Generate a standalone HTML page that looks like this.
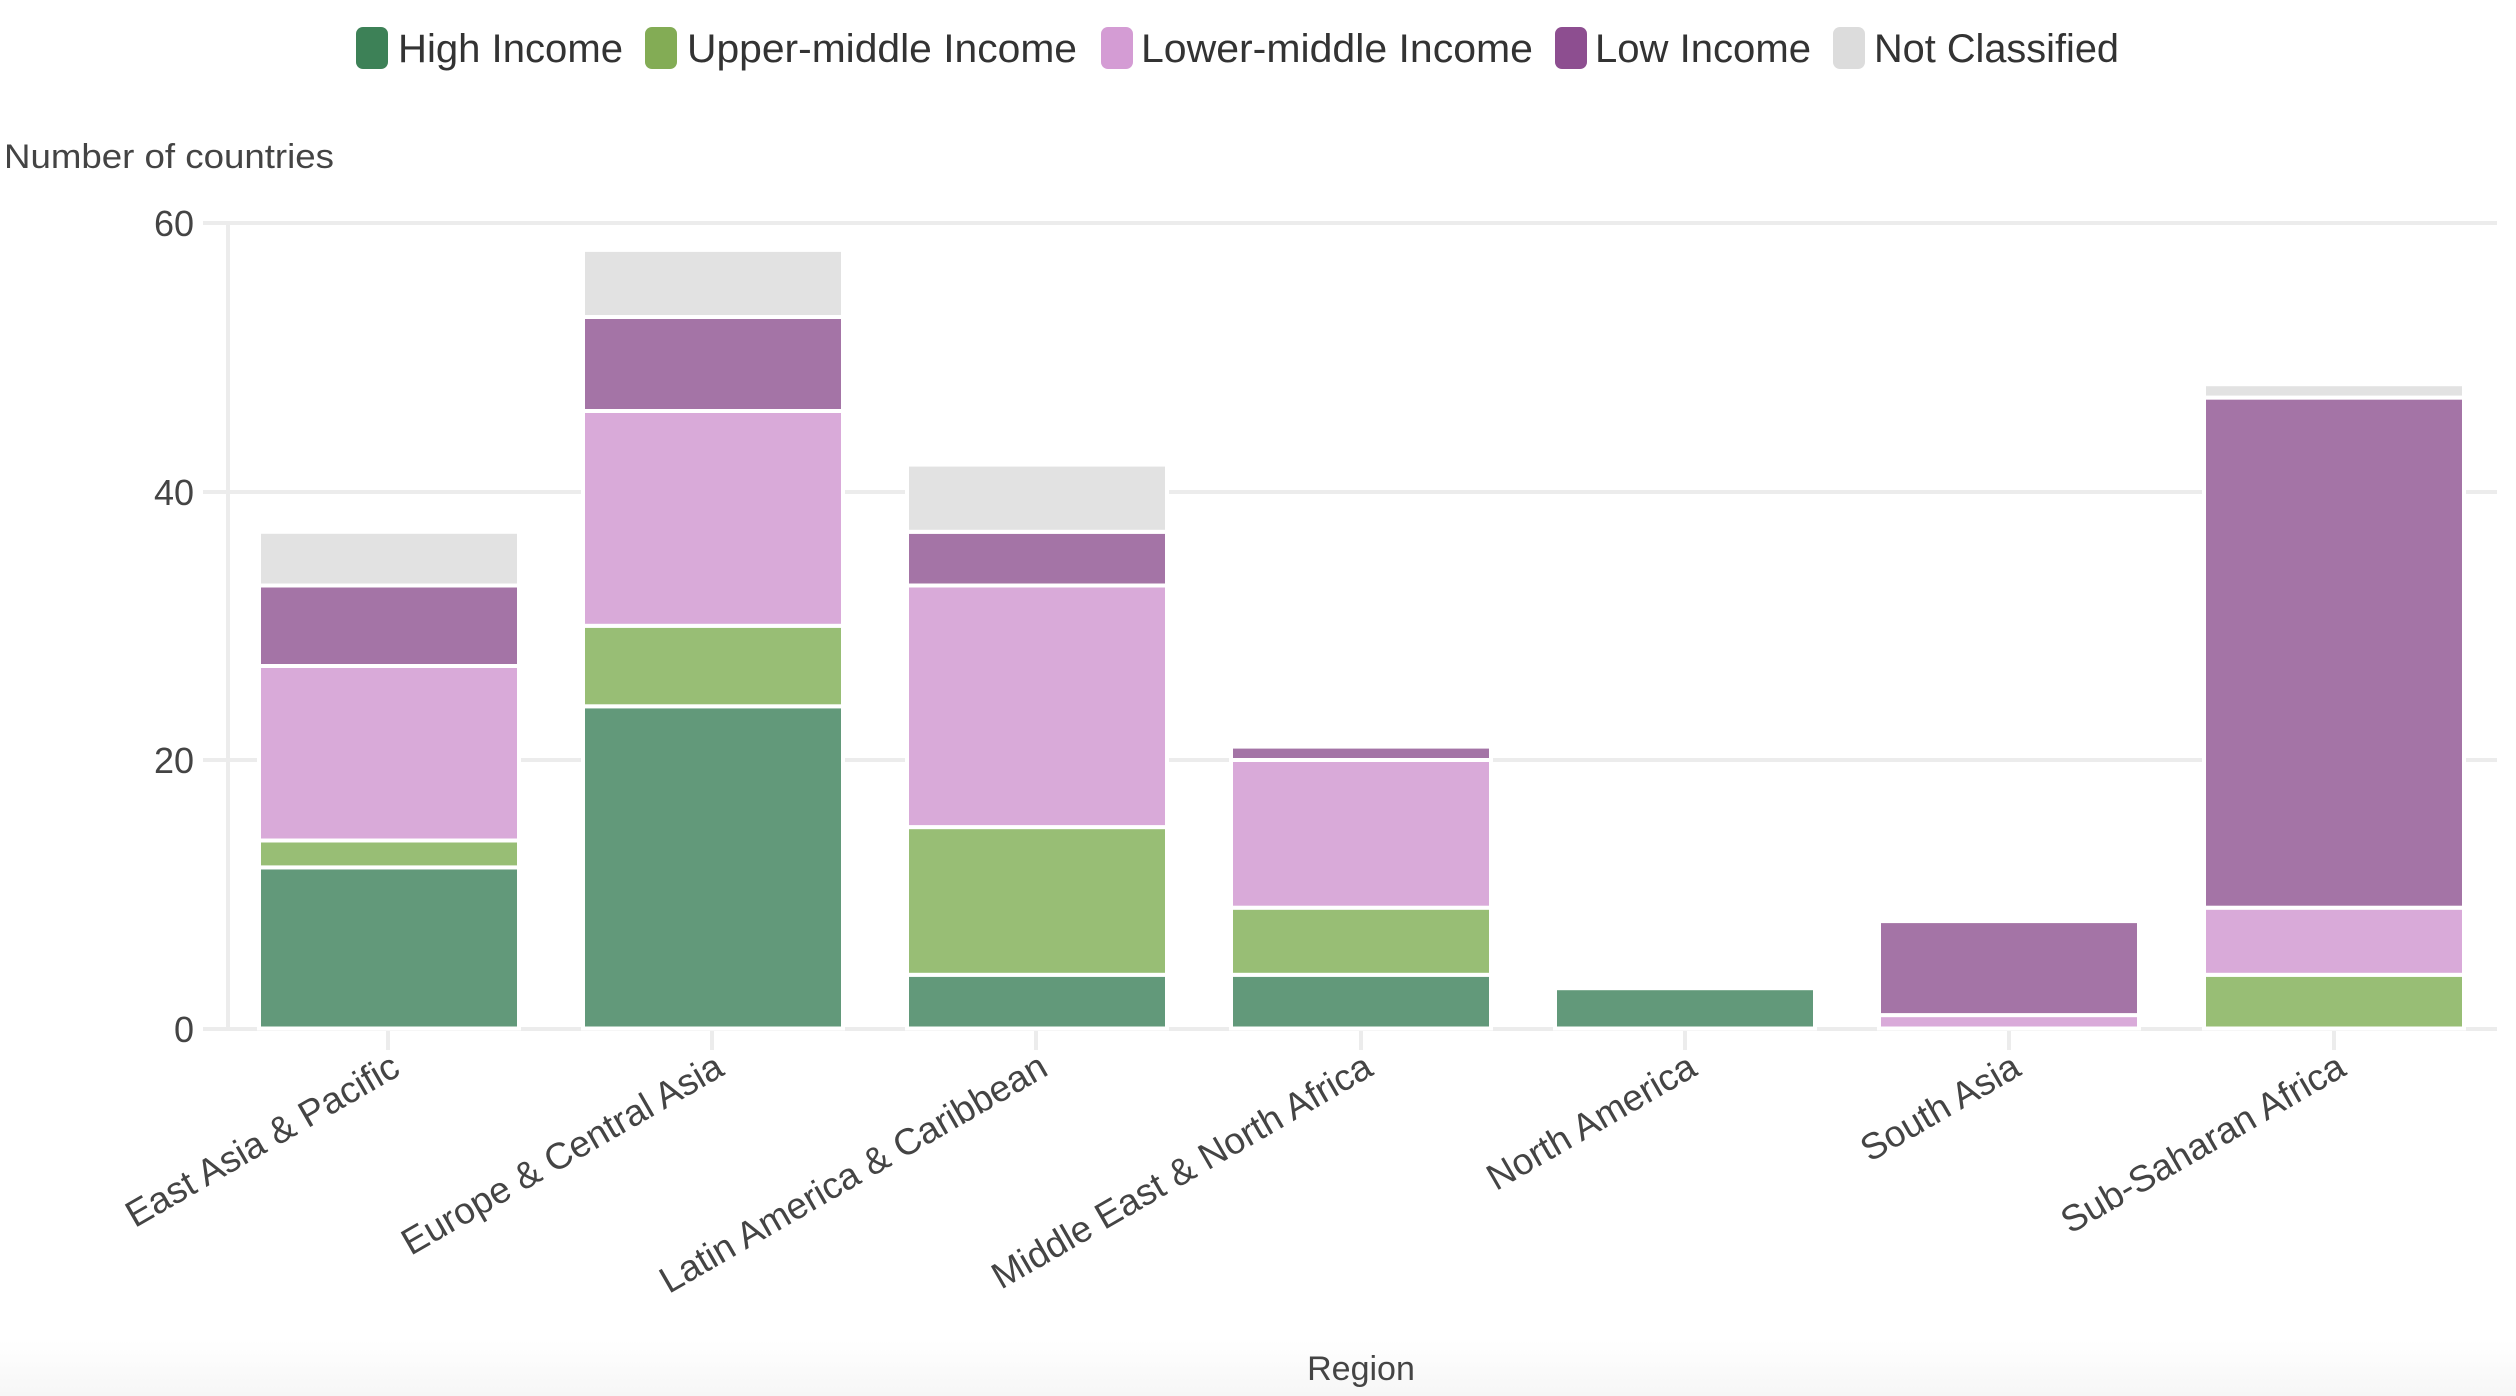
<!DOCTYPE html>
<html><head><meta charset="utf-8"><style>
html,body{margin:0;padding:0;background:#fff;}
svg{display:block;font-family:"Liberation Sans",sans-serif;}
</style></head><body>
<svg width="2516" height="1396" viewBox="0 0 2516 1396" xmlns="http://www.w3.org/2000/svg">
<defs><linearGradient id="bg" x1="0" y1="0" x2="0" y2="1"><stop offset="0" stop-color="#fff"/><stop offset="1" stop-color="#f6f6f6"/></linearGradient></defs>
<rect x="0" y="1340" width="2516" height="56" fill="url(#bg)"/>
<g font-size="40" fill="#333">
<rect x="356" y="27" width="32" height="42" rx="7" fill="#3d8157"/><text x="398" y="62" textLength="225" lengthAdjust="spacingAndGlyphs">High Income</text>
<rect x="645" y="27" width="32" height="42" rx="7" fill="#83ac55"/><text x="687" y="62" textLength="390" lengthAdjust="spacingAndGlyphs">Upper-middle Income</text>
<rect x="1101" y="27" width="32" height="42" rx="7" fill="#d49cd4"/><text x="1141" y="62" textLength="392" lengthAdjust="spacingAndGlyphs">Lower-middle Income</text>
<rect x="1555" y="27" width="32" height="42" rx="7" fill="#8d4e90"/><text x="1595" y="62" textLength="216" lengthAdjust="spacingAndGlyphs">Low Income</text>
<rect x="1833" y="27" width="32" height="42" rx="7" fill="#dcdcdc"/><text x="1874" y="62" textLength="245" lengthAdjust="spacingAndGlyphs">Not Classified</text>
</g>
<text x="4" y="168" font-size="34" fill="#444" textLength="330" lengthAdjust="spacingAndGlyphs">Number of countries</text>
<g stroke="#ececec" stroke-width="4">
<line x1="203" y1="223" x2="2497" y2="223"/>
<line x1="203" y1="492" x2="2497" y2="492"/>
<line x1="203" y1="760" x2="2497" y2="760"/>
<line x1="203" y1="1029" x2="2497" y2="1029"/>
<line x1="228" y1="223" x2="228" y2="1029"/>
<line x1="388" y1="1031" x2="388" y2="1050"/><line x1="712" y1="1031" x2="712" y2="1050"/><line x1="1036" y1="1031" x2="1036" y2="1050"/><line x1="1361" y1="1031" x2="1361" y2="1050"/><line x1="1685" y1="1031" x2="1685" y2="1050"/><line x1="2009" y1="1031" x2="2009" y2="1050"/><line x1="2334" y1="1031" x2="2334" y2="1050"/>
</g>
<g font-size="36" fill="#444" text-anchor="end">
<text x="194" y="236">60</text><text x="194" y="505">40</text><text x="194" y="773">20</text><text x="194" y="1042">0</text>
</g>
<g stroke="#fff" stroke-width="4">
<rect x="259" y="867.4" width="260" height="161.1" fill="#62997a"/>
<rect x="259" y="840.5" width="260" height="26.9" fill="#98be75"/>
<rect x="259" y="666" width="260" height="174.5" fill="#d9aad9"/>
<rect x="259" y="585.5" width="260" height="80.5" fill="#a474a6"/>
<rect x="259" y="531.8" width="260" height="53.7" fill="#e2e2e2"/>
<rect x="583" y="706.3" width="260" height="322.2" fill="#62997a"/>
<rect x="583" y="625.8" width="260" height="80.5" fill="#98be75"/>
<rect x="583" y="411" width="260" height="214.8" fill="#d9aad9"/>
<rect x="583" y="317" width="260" height="94" fill="#a474a6"/>
<rect x="583" y="249.9" width="260" height="67.1" fill="#e2e2e2"/>
<rect x="907" y="974.8" width="260" height="53.7" fill="#62997a"/>
<rect x="907" y="827.1" width="260" height="147.7" fill="#98be75"/>
<rect x="907" y="585.5" width="260" height="241.6" fill="#d9aad9"/>
<rect x="907" y="531.8" width="260" height="53.7" fill="#a474a6"/>
<rect x="907" y="464.6" width="260" height="67.2" fill="#e2e2e2"/>
<rect x="1231" y="974.8" width="260" height="53.7" fill="#62997a"/>
<rect x="1231" y="907.7" width="260" height="67.1" fill="#98be75"/>
<rect x="1231" y="760" width="260" height="147.7" fill="#d9aad9"/>
<rect x="1231" y="746.6" width="260" height="13.4" fill="#a474a6"/>
<rect x="1555" y="988.2" width="260" height="40.3" fill="#62997a"/>
<rect x="1879" y="1015.1" width="260" height="13.4" fill="#d9aad9"/>
<rect x="1879" y="921.1" width="260" height="94" fill="#a474a6"/>
<rect x="2204" y="974.8" width="260" height="53.7" fill="#98be75"/>
<rect x="2204" y="907.7" width="260" height="67.1" fill="#d9aad9"/>
<rect x="2204" y="397.6" width="260" height="510.1" fill="#a474a6"/>
<rect x="2204" y="384.2" width="260" height="13.4" fill="#e2e2e2"/>
</g>
<g font-size="37" fill="#444" text-anchor="end">
<text transform="translate(402,1074) rotate(-30)">East Asia &amp; Pacific</text>
<text transform="translate(726,1074) rotate(-30)">Europe &amp; Central Asia</text>
<text transform="translate(1050,1074) rotate(-30)">Latin America &amp; Caribbean</text>
<text transform="translate(1375,1074) rotate(-30)">Middle East &amp; North Africa</text>
<text transform="translate(1699,1074) rotate(-30)">North America</text>
<text transform="translate(2023,1074) rotate(-30)">South Asia</text>
<text transform="translate(2348,1074) rotate(-30)">Sub-Saharan Africa</text>
</g>
<text x="1361" y="1380" font-size="34" fill="#444" text-anchor="middle">Region</text>
</svg>
</body></html>
